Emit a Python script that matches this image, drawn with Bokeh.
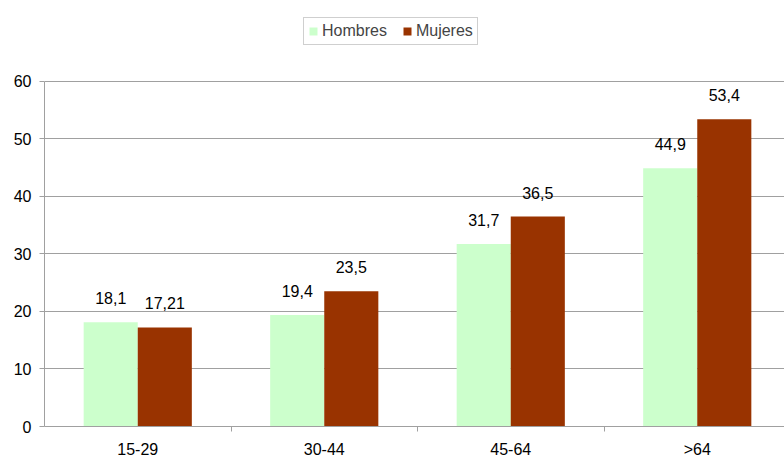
from bokeh.plotting import figure
from bokeh.models import (ColumnDataSource, Range1d, FixedTicker, Legend, LegendItem)
from bokeh.core.properties import value
from bokeh.embed import file_html
from bokeh.resources import INLINE

categories = ["15-29", "30-44", "45-64", ">64"]
hombres = [18.1, 19.4, 31.7, 44.9]
mujeres = [17.21, 23.5, 36.5, 53.4]
y_ticks = [0, 10, 20, 30, 40, 50, 60]

FONT = "Liberation Sans"
FS = "16px"
GREY = "#a0a0a0"
BW = 0.29

centers = [i + 0.5 for i in range(len(categories))]
src_h = ColumnDataSource(dict(x=[c - BW / 2 for c in centers], top=hombres,
                              lab=[str(v).replace(".", ",") for v in hombres]))
src_m = ColumnDataSource(dict(x=[c + BW / 2 for c in centers], top=mujeres,
                              lab=[str(v).replace(".", ",") for v in mujeres]))

p = figure(width=784, height=460, output_backend="svg", toolbar_location=None,
           x_range=Range1d(0, 740 / 186.5), y_range=Range1d(0, 60 * 427 / 346),
           min_border_left=44, min_border_right=0, min_border_top=0, min_border_bottom=33)
p.outline_line_color = None
p.background_fill_color = "white"
p.border_fill_color = "white"

rh = p.vbar(x="x", top="top", width=BW, bottom=0, source=src_h,
            fill_color="#CCFFCC", line_color=None)
rm = p.vbar(x="x", top="top", width=BW, bottom=0, source=src_m,
            fill_color="#993300", line_color=None)

for src in (src_h, src_m):
    p.text(x="x", y="top", text="lab", source=src, text_align="center",
           text_baseline="bottom", y_offset=-18, text_font=value(FONT),
           text_font_size=FS, text_color="black")

# axes
p.xgrid.visible = False
p.ygrid.grid_line_color = GREY
p.ygrid.ticker = FixedTicker(ticks=y_ticks)

ya = p.yaxis[0]
ya.ticker = FixedTicker(ticks=y_ticks)
ya.bounds = (0, 60)
ya.axis_line_color = GREY
ya.major_tick_line_color = GREY
ya.major_tick_out = 5
ya.major_tick_in = 0
ya.minor_tick_line_color = None
ya.major_label_text_font = FONT
ya.major_label_text_font_size = FS
ya.major_label_text_color = "black"
ya.major_label_standoff = 8

xa = p.xaxis[0]
xa.ticker = FixedTicker(ticks=centers, minor_ticks=[1, 2, 3])
xa.major_label_overrides = {c: lab for c, lab in zip(centers, categories)}
xa.axis_line_color = GREY
xa.major_tick_line_color = None
xa.major_tick_out = 5
xa.major_tick_in = 0
xa.minor_tick_line_color = GREY
xa.minor_tick_out = 5
xa.minor_tick_in = 0
xa.major_label_text_font = FONT
xa.major_label_text_font_size = FS
xa.major_label_text_color = "black"
xa.major_label_standoff = 9

legend = Legend(items=[LegendItem(label="Hombres", renderers=[rh]),
                       LegendItem(label="Mujeres", renderers=[rm])],
                orientation="horizontal", location=(259, 381),
                border_line_color=GREY, border_line_width=1,
                background_fill_color="white", background_fill_alpha=1,
                label_text_font=FONT, label_text_font_size=FS,
                glyph_width=10, glyph_height=10, label_standoff=4,
                spacing=15, padding=4, margin=0, label_height=14)
p.add_layout(legend, "center")

open("out.html", "w").write(file_html(p, INLINE))
